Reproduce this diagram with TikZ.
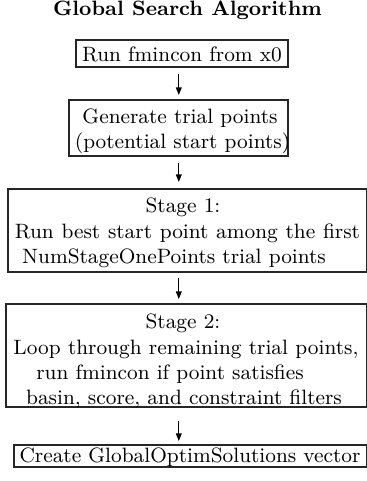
\documentclass[tikz,border=0pt]{standalone}
\usetikzlibrary{arrows.meta}
\newcommand{\stretchline}[2]{\makebox[#1][s]{#2}}
\begin{document}
\begin{tikzpicture}[x=0.45pt,y=-0.45pt,
  box/.style={draw=black!85,line width=0.5pt,inner sep=0pt,outer sep=0pt,rectangle},
  txt/.style={anchor=base,inner sep=0pt,outer sep=0pt,font=\fontsize{9.35}{11.2}\selectfont},
  arr/.style={line width=0.5pt,-{Triangle[length=3.4pt,width=2.6pt]}}]
\useasboundingbox (0,0) rectangle (367,481);
\node[txt,font=\fontsize{9.35}{11.2}\selectfont\bfseries] (title) at (187.5,16) {Global Search Algorithm};
% boxes
\node[box,minimum width=212*0.45pt,minimum height=27*0.45pt] (b1) at (182,53.5) {};
\node[box,minimum width=219*0.45pt,minimum height=56*0.45pt] (b2) at (178.5,128) {};
\node[box,minimum width=358.3*0.45pt,minimum height=83*0.45pt] (b3) at (187.15,230.5) {};
\node[box,minimum width=360.3*0.45pt,minimum height=103*0.45pt] (b4) at (186.15,355.5) {};
\node[box,minimum width=352.3*0.45pt,minimum height=22*0.45pt] (b5) at (190.15,456) {};
% texts
\node[txt] (t1) at (182,61) {Run fmincon from x0};
\node[txt] (t2a) at (180,123) {Generate trial points};
\node[txt] (t2b) at (182.5,148) {(potential start points)};
\node[txt] (t3a) at (183,212) {Stage 1:};
\node[txt] (t3b) at (187.5,238) {\stretchline{155.25pt}{Run best start point among the first}};
\node[txt] (t3c) at (174,263) {NumStageOnePoints trial points};
\node[txt] (t4a) at (183,328) {Stage 2:};
\node[txt] (t4b) at (186,354) {\stretchline{155.25pt}{Loop through remaining trial points,}};
\node[txt] (t4c) at (170,379) {run fmincon if point satisfies};
\node[txt] (t4d) at (184,404) {basin, score, and constraint filters};
\node[txt] (t5) at (190,462) {Create GlobalOptimSolutions vector};
% arrows
\coordinate (ax) at (178.8,0);
\draw[arr,shorten <=7*0.45pt,shorten >=5*0.45pt] (b1.south -| ax) -- (b2.north -| ax);
\draw[arr,shorten <=7*0.45pt,shorten >=7*0.45pt] (b2.south -| ax) -- (b3.north -| ax);
\draw[arr,shorten <=6*0.45pt,shorten >=5*0.45pt] (b3.south -| ax) -- (b4.north -| ax);
\draw[arr,shorten <=14*0.45pt,shorten >=4*0.45pt] (b4.south -| ax) -- (b5.north -| ax);
\end{tikzpicture}
\end{document}
